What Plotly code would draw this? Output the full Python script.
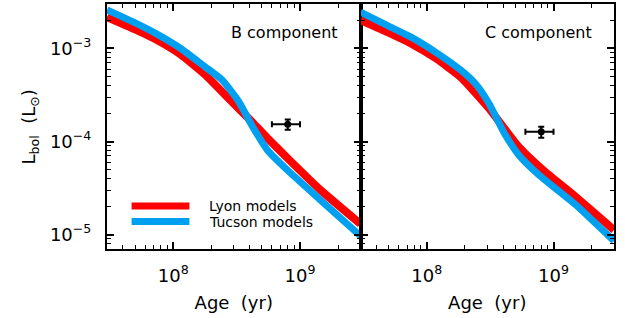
import plotly.graph_objects as go
import math

# ---------------- data ----------------
# B component
age_B_lyon = [3.0e7, 5.0e7, 7.19e7, 1.13e8, 1.79e8, 2.81e8, 4.05e8, 5.52e8, 7.94e8, 1.45e9, 3.0e9]
lum_B_lyon = [2.17e-3, 1.6e-3, 1.26e-3, 8.7e-4, 5.2e-4, 2.79e-4, 1.70e-4, 1.09e-4, 6.65e-5, 3.01e-5, 1.30e-5]
age_B_tucson = [3.0e7, 5.0e7, 7.19e7, 1.13e8, 1.79e8, 2.43e8, 3.26e8, 4.28e8, 5.52e8, 7.94e8, 1.45e9, 3.0e9]
lum_B_tucson = [2.59e-3, 1.88e-3, 1.46e-3, 1.01e-3, 6.3e-4, 4.58e-4, 2.72e-4, 1.40e-4, 8.11e-5, 4.94e-5, 2.35e-5, 9.66e-6]

# C component
age_C_lyon = [3.0e7, 5.0e7, 7.45e7, 1.17e8, 1.85e8, 3.08e8, 5.32e8, 8.24e8, 1.50e9, 3.0e9]
lum_C_lyon = [2.02e-3, 1.48e-3, 1.14e-3, 7.88e-4, 4.93e-4, 2.29e-4, 8.73e-5, 4.94e-5, 2.53e-5, 1.12e-5]
age_C_tucson = [3.0e7, 5.0e7, 7.45e7, 1.17e8, 1.85e8, 2.43e8, 3.08e8, 4.05e8, 5.32e8, 7.66e8, 1.50e9, 3.0e9]
lum_C_tucson = [2.46e-3, 1.74e-3, 1.33e-3, 9.14e-4, 5.86e-4, 4.15e-4, 2.59e-4, 1.26e-4, 7.16e-5, 4.37e-5, 2.08e-5, 8.53e-6]

# measured points
obs_age = [8.0e8, 8.0e8]
obs_age_err = [2.0e8, 2.0e8]
obs_lum = [1.53e-4, 1.27e-4]
obs_lum_err = [0.19e-4, 0.17e-4]

panel_labels = ["B component", "C component"]
legend_labels = ["Lyon models", "Tucson models"]

x_tickvals = [1e8, 1e9]
x_ticktext = ["10<sup>8</sup>", "10<sup>9</sup>"]
y_tickvals = [1e-3, 1e-4, 1e-5]
y_ticktext = ["10<sup>\u22123</sup>", "10<sup>\u22124</sup>", "10<sup>\u22125</sup>"]

RED = "#ff0000"
BLUE = "#00a0f0"
FONT = "DejaVu Sans"

x_range = [3e7, 3e9]
y_range = [7e-6, 3e-3]

x_minor = [m * 10 ** e for e in range(7, 10) for m in range(2, 10) if x_range[0] <= m * 10 ** e <= x_range[1]]
y_minor = [m * 10 ** e for e in range(-6, -2) for m in range(2, 10) if y_range[0] <= m * 10 ** e <= y_range[1]]

fig = go.Figure()

panels = [
    (age_B_lyon, lum_B_lyon, age_B_tucson, lum_B_tucson, "x", "y"),
    (age_C_lyon, lum_C_lyon, age_C_tucson, lum_C_tucson, "x2", "y2"),
]
for i, (al, ll, at, lt, xa, ya) in enumerate(panels):
    fig.add_trace(go.Scatter(x=al, y=ll, mode="lines",
                             line=dict(color=RED, width=8, shape="spline", smoothing=0.5),
                             xaxis=xa, yaxis=ya, showlegend=False, hoverinfo="skip"))
    fig.add_trace(go.Scatter(x=at, y=lt, mode="lines",
                             line=dict(color=BLUE, width=7, shape="spline", smoothing=0.5),
                             xaxis=xa, yaxis=ya, showlegend=False, hoverinfo="skip"))
    fig.add_trace(go.Scatter(
        x=[obs_age[i]], y=[obs_lum[i]], mode="markers",
        marker=dict(color="black", size=7),
        error_x=dict(type="data", array=[obs_age_err[i]], color="black", thickness=2, width=3),
        error_y=dict(type="data", array=[obs_lum_err[i]], color="black", thickness=2, width=3),
        xaxis=xa, yaxis=ya, showlegend=False))

axis_common = dict(
    type="log", showline=True, linecolor="black", linewidth=2, mirror="allticks",
    ticks="inside", ticklen=7, tickwidth=1.5, tickcolor="black",
    showgrid=False, zeroline=False, automargin=False,
    tickfont=dict(family=FONT, size=18, color="black"),
)

for xa, dom in (("xaxis", [0, 0.5]), ("xaxis2", [0.5, 1])):
    fig.update_layout({xa: dict(
        axis_common, domain=dom,
        range=[math.log10(x_range[0]), math.log10(x_range[1])],
        tickmode="array", tickvals=x_tickvals, ticktext=x_ticktext,
        minor=dict(tickmode="array", tickvals=x_minor, ticks="inside", ticklen=4,
                   tickwidth=1.2, tickcolor="black"),
        ticklabelstandoff=9,
        title=dict(text="Age\u00a0\u00a0(yr)", font=dict(family=FONT, size=18, color="black"), standoff=12),
    )})

fig.update_layout(
    yaxis=dict(axis_common, anchor="x", domain=[0, 1],
               range=[math.log10(y_range[0]), math.log10(y_range[1])],
               tickmode="array", tickvals=y_tickvals, ticktext=y_ticktext,
               minor=dict(tickmode="array", tickvals=y_minor, ticks="inside", ticklen=4,
                          tickwidth=1.2, tickcolor="black"),
               ticklabelstandoff=10),
    yaxis2=dict(axis_common, anchor="x2", domain=[0, 1], matches="y",
                range=[math.log10(y_range[0]), math.log10(y_range[1])],
                tickmode="array", tickvals=y_tickvals, showticklabels=False,
                minor=dict(tickmode="array", tickvals=y_minor, ticks="inside", ticklen=4,
                           tickwidth=1.2, tickcolor="black")),
)
fig.update_layout(xaxis=dict(anchor="y"), xaxis2=dict(anchor="y2"))

# panel labels
for i, (xr, yr) in enumerate((("x domain", "y domain"), ("x2 domain", "y2 domain"))):
    fig.add_annotation(text=panel_labels[i], xref=xr, yref=yr, x=0.92, y=0.885,
                       xanchor="right", yanchor="middle", showarrow=False,
                       font=dict(family=FONT, size=16, color="black"))

# legend (drawn manually)
leg_colors = [RED, BLUE]
leg_y = [0.176, 0.112]
for c, yv, lab in zip(leg_colors, leg_y, legend_labels):
    fig.add_shape(type="line", xref="x domain", yref="y domain", x0=0.097, x1=0.325,
                  y0=yv, y1=yv, line=dict(color=c, width=7))
    fig.add_annotation(text=lab, xref="x domain", yref="y domain", x=0.395, y=yv,
                       xanchor="left", yanchor="middle", showarrow=False,
                       font=dict(family=FONT, size=14, color="black"))

# y title
fig.add_annotation(text="L<sub>bol</sub>\u00a0\u00a0(L<sub>\u2299</sub>)", xref="paper", yref="paper",
                   x=-0.152, y=0.5, xanchor="center", yanchor="middle", textangle=-90,
                   showarrow=False, font=dict(family=FONT, size=18, color="black"))

fig.update_layout(
    width=625, height=318,
    margin=dict(l=107, r=11, t=4, b=69, autoexpand=False),
    paper_bgcolor="white", plot_bgcolor="white",
    showlegend=False,
)

fig.write_html("out.html",
               config={"displayModeBar": False},
               post_script="document.body.style.margin='0';document.body.style.padding='0';")
